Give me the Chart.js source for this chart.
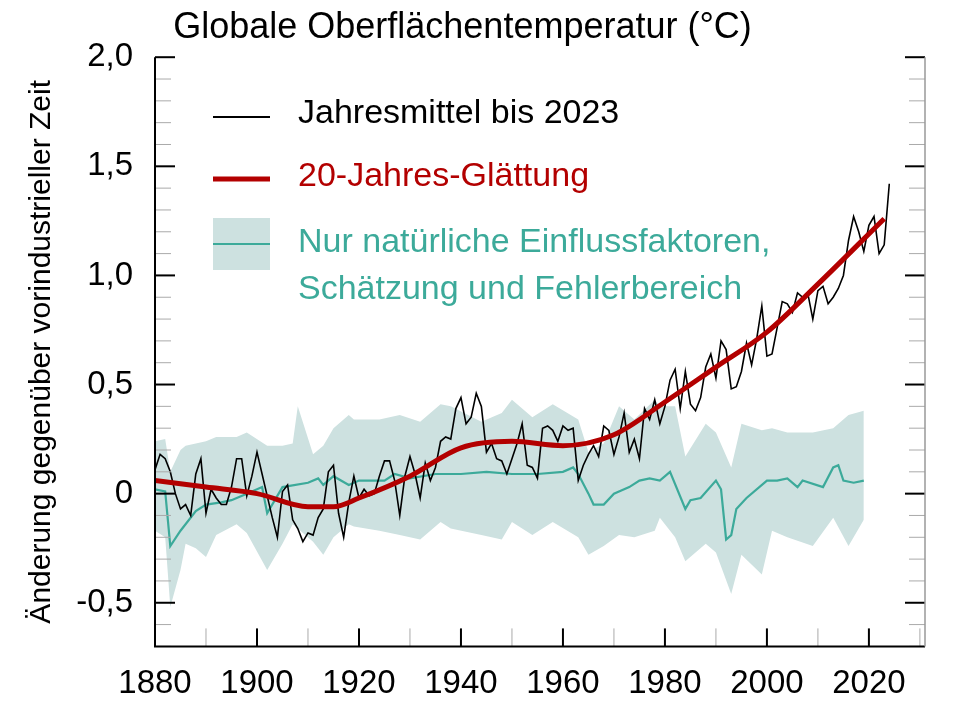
<!DOCTYPE html>
<html><head><meta charset="utf-8">
<script src="https://cdn.jsdelivr.net/npm/chart.js@4"></script>
<style>html,body{margin:0;background:#fff}#wrap{width:960px;height:720px}</style>
</head><body><div id="wrap"><canvas id="c"></canvas></div>
<script>
const firstYear = 1880;
const annual = [
  .11,.18,.16,.10,0,-.07,-.05,-.10,.09,.16,
  -.09,.02,-.02,-.05,-.05,.03,.16,.16,-.01,.08,
  .19,.09,-.01,-.11,-.20,.01,.04,-.12,-.16,-.22,
  -.18,-.19,-.11,-.07,.10,.13,-.09,-.20,-.04,.08,
  -.02,.02,-.01,0,.08,.15,.15,.06,
  -.10,.08,.17,.09,-.02,.14,.06,.12,.24,.26,
  .25,.39,.44,.32,.35,.46,.40,.19,.23,.16,
  .15,.09,.16,.23,.32,.13,.12,.07,.30,.31,
  .29,.24,.31,.29,.30,.06,.13,.18,.22,.17,
  .31,.29,.18,.26,.37,.19,.25,.16,.39,.34,
  .43,.32,.40,.52,.57,.39,.56,.41,.38,.44,
  .58,.64,.53,.70,.66,.48,.49,.56,.69,.59,
  .71,.86,.63,.64,.76,.88,.87,.83,.92,.90,
  .92,.80,.93,.95,.87,.90,.94,1.00,1.16,1.27,
  1.20,1.11,1.23,1.27,1.10,1.14,1.42
];
const smoothYears = [1880,1890,1900,1910,1915,1920,1930,1940,1950,1960,1970,1980,1990,2000,2010,2023];
const smoothVals  = [.06,.03,0,-.06,-.06,-.02,.08,.21,.24,.22,.27,.42,.58,.74,.96,1.26];
const natYears = [1880,1882,1883,1885,1888,1890,1893,1895,1898,1901,1902,1905,1910,1912,1913,1915,1918,1920,1925,1927,1930,1935,1940,1945,1950,1955,1960,1962,1963,1965,1966,1968,1970,1972,1973,1975,1977,1979,1981,1984,1985,1987,1990,1991,1992,1993,1994,1996,2000,2002,2004,2006,2007,2011,2013,2014,2015,2017,2019];
const natVals  = [.02,.01,-.24,-.17,-.08,-.05,-.04,-.03,0,.03,-.09,.03,.05,.07,.04,.08,.04,.06,.06,.09,.07,.09,.09,.10,.09,.09,.10,.12,.09,0,-.05,-.05,0,.02,.03,.06,.07,.06,.10,-.07,-.03,-.02,.06,.02,-.21,-.19,-.07,-.02,.06,.06,.07,.03,.06,.03,.12,.13,.06,.05,.06];
const bandYears = [1880,1882,1883,1885,1886,1888,1890,1892,1896,1898,1902,1905,1907,1908,1911,1913,1915,1918,1919,1924,1928,1932,1936,1938,1944,1948,1950,1954,1958,1963,1965,1968,1971,1974,1978,1979,1982,1984,1988,1990,1993,1995,1999,2001,2004,2009,2013,2016,2019];
const bandHigh = [.24,.25,.10,.20,.22,.23,.24,.26,.26,.28,.22,.22,.23,.40,.18,.22,.30,.36,.34,.34,.36,.33,.41,.40,.33,.37,.43,.35,.41,.34,.19,.23,.40,.34,.43,.40,.40,.17,.32,.28,.12,.32,.29,.30,.28,.28,.30,.36,.38];
const bandLow  = [-.17,-.20,-.52,-.35,-.23,-.25,-.29,-.19,-.14,-.18,-.35,-.23,-.14,-.16,-.22,-.28,-.20,-.14,-.15,-.17,-.19,-.21,-.13,-.16,-.19,-.21,-.13,-.19,-.13,-.20,-.28,-.24,-.19,-.20,-.17,-.11,-.20,-.31,-.23,-.27,-.46,-.28,-.37,-.17,-.20,-.24,-.11,-.24,-.12];
const yTicks = [-0.5,0,0.5,1,1.5,2];

const pts = (xs, ys) => xs.map((x, i) => ({x, y: ys[i]}));
const FONT = '"Liberation Sans", Arial, sans-serif';

const frame = {
  id: 'frame',
  afterDraw(chart) {
    const {ctx, chartArea: a, scales: {x, y}} = chart;
    ctx.save();
    for (let v = -7; v <= 20; v++) {
      const py = y.getPixelForValue(v / 10);
      const major = v % 5 === 0;
      ctx.strokeStyle = major ? '#000' : '#aaa';
      ctx.lineWidth = major ? 2 : 1;
      ctx.beginPath(); ctx.moveTo(a.left, py); ctx.lineTo(a.left + (major ? 20 : 16), py); ctx.stroke();
      ctx.beginPath(); ctx.moveTo(a.right, py); ctx.lineTo(a.right - (major ? 20 : 16), py); ctx.stroke();
    }
    for (let yr = 1880; yr <= 2030; yr += 10) {
      const px = x.getPixelForValue(yr);
      const major = yr % 20 === 0;
      ctx.strokeStyle = major ? '#000' : '#aaa';
      ctx.lineWidth = major ? 2 : 1;
      ctx.beginPath(); ctx.moveTo(px, a.bottom); ctx.lineTo(px, a.bottom - 18); ctx.stroke();
    }
    ctx.strokeStyle = '#000'; ctx.lineWidth = 2;
    ctx.beginPath(); ctx.moveTo(a.left, a.top); ctx.lineTo(a.left, a.bottom); ctx.lineTo(a.right, a.bottom); ctx.stroke();
    ctx.strokeStyle = '#999'; ctx.lineWidth = 1.5;
    ctx.beginPath(); ctx.moveTo(a.right, a.top); ctx.lineTo(a.right, a.bottom); ctx.stroke();

    // legend
    ctx.font = '34px ' + FONT; ctx.textBaseline = 'middle';
    ctx.strokeStyle = '#000'; ctx.lineWidth = 2;
    ctx.beginPath(); ctx.moveTo(213, 117); ctx.lineTo(270, 117); ctx.stroke();
    ctx.fillStyle = '#000'; ctx.fillText('Jahresmittel bis 2023', 298, 114);
    ctx.strokeStyle = '#b30000'; ctx.lineWidth = 5;
    ctx.beginPath(); ctx.moveTo(213, 179); ctx.lineTo(270, 179); ctx.stroke();
    ctx.fillStyle = '#b30000'; ctx.fillText('20-Jahres-Glättung', 298, 177);
    ctx.fillStyle = '#cde1e0'; ctx.fillRect(213, 218, 57, 52);
    ctx.strokeStyle = '#3caa9a'; ctx.lineWidth = 2;
    ctx.beginPath(); ctx.moveTo(213, 244); ctx.lineTo(270, 244); ctx.stroke();
    ctx.fillStyle = '#3caa9a';
    ctx.fillText('Nur natürliche Einflussfaktoren,', 298, 243);
    ctx.fillText('Schätzung und Fehlerbereich', 298, 290);
    ctx.restore();
  }
};

new Chart(document.getElementById('c'), {
  type: 'line',
  data: {
    datasets: [
      {data: pts(bandYears, bandHigh), order: 5, borderWidth: 0, pointRadius: 0, fill: '+1', backgroundColor: '#cde1e0', tension: 0},
      {data: pts(bandYears, bandLow), order: 6, borderWidth: 0, pointRadius: 0, fill: false, tension: 0},
      {data: pts(natYears, natVals), order: 3, borderColor: '#3caa9a', borderWidth: 2.2, pointRadius: 0, tension: 0},
      {data: annual.map((v, i) => ({x: firstYear + i, y: v})), order: 2, borderColor: '#000', borderWidth: 1.6, pointRadius: 0, tension: 0},
      {data: pts(smoothYears, smoothVals), order: 1, borderColor: '#b30000', borderWidth: 5, pointRadius: 0, cubicInterpolationMode: 'monotone'}
    ]
  },
  options: {
    responsive: true, maintainAspectRatio: false, animation: false,
    layout: {padding: {left: 0, right: 35, top: 4, bottom: 6}},
    plugins: {
      legend: {display: false}, tooltip: {enabled: false},
      filler: {drawTime: 'beforeDatasetsDraw'},
      title: {display: true, text: 'Globale Oberflächentemperatur (°C)', color: '#000',
              font: {family: FONT, size: 36, weight: 'normal'}, padding: {top: 2, bottom: 8}}
    },
    scales: {
      x: {type: 'linear', min: 1880, max: 2031,
          grid: {display: false}, border: {display: false},
          afterBuildTicks: s => { s.ticks = [1880,1900,1920,1940,1960,1980,2000,2020].map(v => ({value: v})); },
          ticks: {color: '#000', font: {family: FONT, size: 33}, padding: 10, maxRotation: 0, callback: v => String(v)}},
      y: {min: -0.7, max: 2.0,
          grid: {display: false}, border: {display: false},
          afterBuildTicks: s => { s.ticks = yTicks.map(v => ({value: v})); },
          afterFit: s => { s.width = 155; },
          title: {display: true, text: 'Änderung gegenüber vorindustrieller Zeit', color: '#000',
                  font: {family: FONT, size: 30}, padding: {top: 24, bottom: 0}},
          ticks: {color: '#000', font: {family: FONT, size: 33}, padding: 14,
                  callback: v => v === 0 ? '0' : v.toFixed(1).replace('.', ',')}}
    }
  },
  plugins: [frame]
});
</script></body></html>
